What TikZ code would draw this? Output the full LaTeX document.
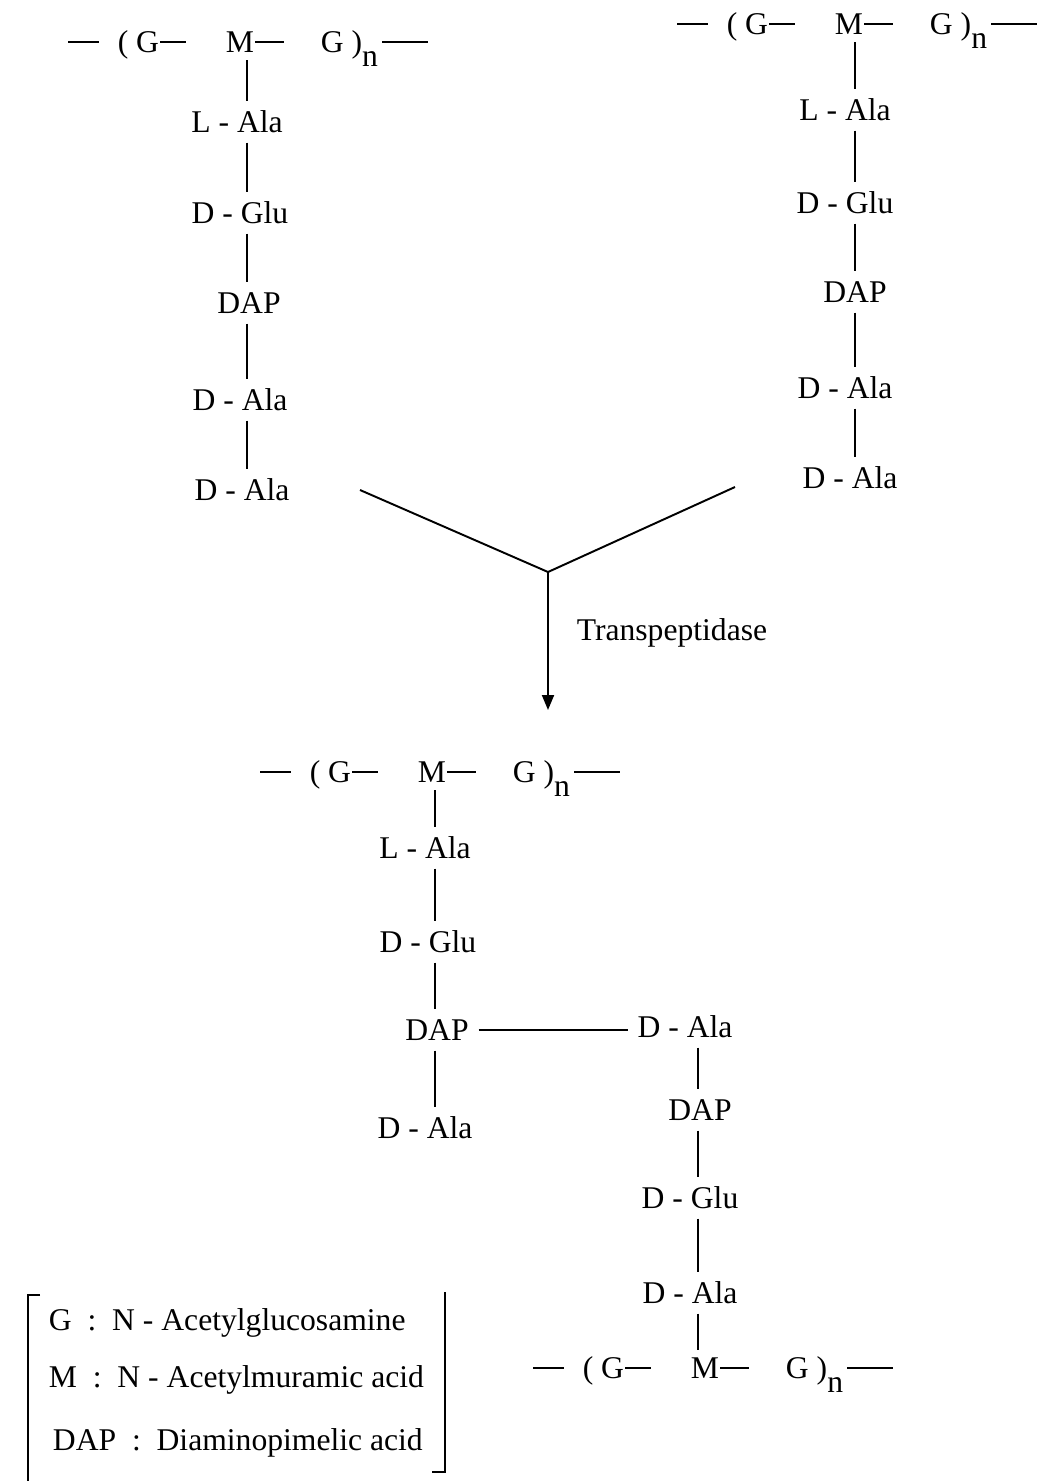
\documentclass[tikz,border=0pt]{standalone}
\usepackage{fontspec}
\setmainfont{Liberation Serif}
\usetikzlibrary{arrows.meta}

% glycan backbone: #1 prefix, #2 x of M, #3 y of M
\newcommand*{\backbone}[3]{%
	\node[bb,outer ysep=0.15cm] (#1m) at (#2,#3) {M};
	\node[bb,anchor=east] (#1gl) at (#2-80,#3) {( G};
	\node[bb,anchor=west] (#1gr) at (#2+80,#3) {G )\raisebox{-0.45em}{n}};
	\coordinate (#1l) at (#2-172,#3);
	\coordinate (#1r) at (#2+188,#3);
	\draw[shorten >=0.36cm] (#1l) -- (#1gl.west);
	\draw[shorten >=0.78cm] (#1gl.east) -- (#1m.west);
	\draw[shorten >=0.72cm] (#1m.east) -- (#1gr.west);
	\draw[shorten <=0.06cm] (#1gr.east) -- (#1r);
}

\begin{document}
\begin{tikzpicture}
[
	x=0.02cm,
	y=-0.02cm,
	line width=1.1pt,
	every node/.style={font=\fontsize{18}{22}\selectfont},
	bb/.style={inner sep=0pt,text height=12pt,text depth=0pt},
	res/.style={bb,outer xsep=0.2cm,outer ysep=0.2cm},
	key/.style={bb,anchor=west}
]
	\useasboundingbox (0,0) rectangle (1036,1481);

	% left strand
	\coordinate (axA) at (247,0);
	\backbone{a}{240}{42}
	\node[res] (aLAla) at (237,122) {L - Ala};
	\node[res] (aDGlu) at (240,213) {D - Glu};
	\node[res] (aDAP) at (249,303) {DAP};
	\node[res] (aDAlaA) at (240,400) {D - Ala};
	\node[res] (aDAlaB) at (242,490) {D - Ala};
	\draw (am.south -| axA) -- (aLAla.north -| axA)
		(aLAla.south -| axA) -- (aDGlu.north -| axA)
		(aDGlu.south -| axA) -- (aDAP.north -| axA)
		(aDAP.south -| axA) -- (aDAlaA.north -| axA)
		(aDAlaA.south -| axA) -- (aDAlaB.north -| axA);

	% right strand
	\coordinate (axB) at (855,0);
	\backbone{b}{849}{24}
	\node[res] (bLAla) at (845,110) {L - Ala};
	\node[res] (bDGlu) at (845,203) {D - Glu};
	\node[res] (bDAP) at (855,292) {DAP};
	\node[res] (bDAlaA) at (845,388) {D - Ala};
	\node[res] (bDAlaB) at (850,478) {D - Ala};
	\draw (bm.south -| axB) -- (bLAla.north -| axB)
		(bLAla.south -| axB) -- (bDGlu.north -| axB)
		(bDGlu.south -| axB) -- (bDAP.north -| axB)
		(bDAP.south -| axB) -- (bDAlaA.north -| axB)
		(bDAlaA.south -| axB) -- (bDAlaB.north -| axB);

	% reaction
	\coordinate (armL) at (360,490);
	\coordinate (armR) at (735,487);
	\coordinate (join) at (548,572);
	\coordinate (tip) at (548,710);
	\draw (armL) -- (join) -- (armR);
	\draw[-{Triangle[length=0.3cm,width=0.24cm]}] (join) -- (tip);
	\node[anchor=west] (enz) at (570,633) {Transpeptidase};

	% cross-linked product
	\coordinate (axC) at (435,0);
	\backbone{c}{432}{772}
	\node[res] (cLAla) at (425,848) {L - Ala};
	\node[res] (cDGlu) at (428,942) {D - Glu};
	\node[res] (cDAP) at (437,1030) {DAP};
	\node[res] (cDAla) at (425,1128) {D - Ala};
	\draw (cm.south -| axC) -- (cLAla.north -| axC)
		(cLAla.south -| axC) -- (cDGlu.north -| axC)
		(cDGlu.south -| axC) -- (cDAP.north -| axC)
		(cDAP.south -| axC) -- (cDAla.north -| axC);

	\coordinate (axD) at (698,0);
	\node[res] (dDAlaA) at (685,1027) {D - Ala};
	\node[res] (dDAP) at (700,1110) {DAP};
	\node[res] (dDGlu) at (690,1198) {D - Glu};
	\node[res] (dDAlaB) at (690,1293) {D - Ala};
	\backbone{d}{705}{1368}
	\draw (dDAlaA.south -| axD) -- (dDAP.north -| axD)
		(dDAP.south -| axD) -- (dDGlu.north -| axD)
		(dDGlu.south -| axD) -- (dDAlaB.north -| axD)
		(dDAlaB.south -| axD) -- (dm.north -| axD);
	\draw (cDAP.east) -- (cDAP.east -| dDAlaA.west);

	% legend
	\draw (40,1295) -- (28,1295) -- (28,1481);
	\draw (445,1292) -- (445,1472) -- (432,1472);
	\node[key] (keyG) at (48,1320) {G\enspace:\enspace N - Acetylglucosamine};
	\node[key] (keyM) at (48,1377) {M\enspace:\enspace N - Acetylmuramic acid};
	\node[key] (keyDAP) at (52,1440) {DAP\enspace:\enspace Diaminopimelic acid};

\end{tikzpicture}
\end{document}
